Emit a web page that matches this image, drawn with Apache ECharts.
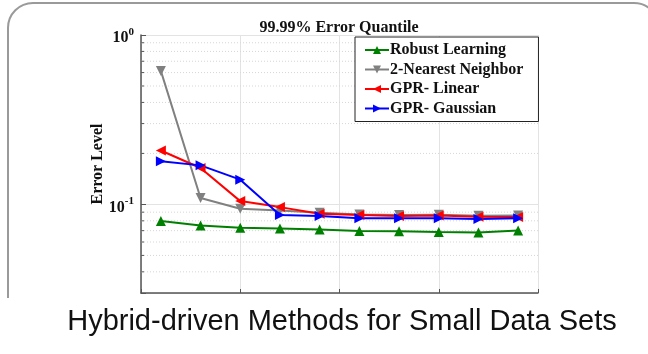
<!DOCTYPE html>
<html>
<head>
<meta charset="utf-8">
<script src="https://cdn.jsdelivr.net/npm/echarts@6/dist/echarts.min.js"></script>
<style>
html,body{margin:0;padding:0;background:#fff;}
#c{width:648px;height:354px;}
</style>
</head>
<body>
<div id="c"></div>
<script>
// ---- data ----
var xValues = [1, 3, 5, 7, 9, 11, 13, 15, 17, 19];
var robustLearning = [0.0797, 0.0752, 0.0729, 0.0722, 0.0710, 0.0696, 0.0694, 0.0687, 0.0683, 0.0701];
var nearestNeighbor = [0.614, 0.109, 0.0943, 0.0922, 0.0894, 0.0873, 0.0865, 0.0869, 0.0856, 0.0861];
var gprLinear = [0.208, 0.164, 0.1046, 0.0964, 0.0881, 0.0865, 0.0855, 0.0861, 0.0847, 0.0842];
var gprGaussian = [0.180, 0.170, 0.140, 0.0865, 0.0854, 0.0828, 0.0830, 0.0830, 0.0820, 0.0828];
var seriesNames = ['Robust Learning', '2-Nearest Neighbor', 'GPR- Linear', 'GPR- Gaussian'];
var minorTickValues = [0.04, 0.05, 0.06, 0.07, 0.08, 0.09, 0.2, 0.3, 0.4, 0.5, 0.6, 0.7, 0.8, 0.9];
var titleText = '99.99% Error Quantile';
var yAxisName = 'Error Level';
var captionText = 'Hybrid-driven Methods for Small Data Sets';

function pairs(ys) { return ys.map(function (y, i) { return [xValues[i], y]; }); }

var serif = '"Liberation Serif", "Times New Roman", serif';
var chart = echarts.init(document.getElementById('c'), null, {renderer: 'canvas'});

function lineSeries(name, data, color, rot) {
  return {
    name: name, type: 'line', data: pairs(data),
    symbol: 'triangle', symbolSize: 10, symbolRotate: rot,
    lineStyle: {color: color, width: 2},
    itemStyle: {color: color},
    z: 5, animation: false
  };
}

var option = {
  animation: false,
  backgroundColor: '#fff',
  title: {
    text: titleText, left: 334, top: 15, textAlign: 'center',
    textStyle: {fontFamily: serif, fontWeight: 'bold', fontSize: 16, color: '#111'}
  },
  grid: {left: 141, right: 110, top: 35, bottom: 61},
  legend: {
    orient: 'vertical', left: 355, top: 37,
    data: seriesNames,
    backgroundColor: '#fff', borderColor: '#222', borderWidth: 1,
    padding: [5, 15, 5, 9], itemGap: 3.5, itemWidth: 24, itemHeight: 10,
    textStyle: {fontFamily: serif, fontWeight: 'bold', fontSize: 16, color: '#111', padding: [0, 0, 0, -4]}
  },
  xAxis: {
    type: 'value', min: 0, max: 20, interval: 5,
    axisLine: {show: true, lineStyle: {color: '#555', width: 1.5}},
    axisTick: {show: true, inside: true, length: 4, lineStyle: {color: '#555'}},
    axisLabel: {show: false},
    splitLine: {show: true, lineStyle: {color: '#e3e3e3', width: 1}}
  },
  yAxis: {
    type: 'log', logBase: 10, min: 0.03, max: 1,
    axisLine: {show: true, lineStyle: {color: '#555', width: 1.5}},
    axisTick: {show: true, inside: true, length: 5, lineStyle: {color: '#555'}},
    axisLabel: {
      margin: 7,
      formatter: function (v) {
        if (Math.abs(v - 1) < 1e-9) return '{b|10}{s|0}';
        if (Math.abs(v - 0.1) < 1e-9) return '{b|10}{s|-1}';
        return '';
      },
      rich: {
        b: {fontFamily: serif, fontWeight: 'bold', fontSize: 16, color: '#111', padding: [6, 0, 0, 0]},
        s: {fontFamily: serif, fontWeight: 'bold', fontSize: 11, color: '#111', padding: [0, 0, 6, 0]}
      }
    },
    splitLine: {show: true, lineStyle: {color: '#e3e3e3', width: 1}},
    name: yAxisName, nameLocation: 'middle', nameGap: 35, nameRotate: 90,
    nameMoveOverlap: false,
    nameTextStyle: {fontFamily: serif, fontWeight: 'bold', fontSize: 16, color: '#111'}
  },
  series: [
    {
      type: 'custom', name: 'minor', silent: true, z: 1,
      data: minorTickValues.map(function (v) { return [0, v]; }),
      renderItem: function (params, api) {
        var p0 = api.coord([0, api.value(1)]);
        var p1 = api.coord([20, api.value(1)]);
        return {
          type: 'group',
          children: [
            {type: 'line', shape: {x1: p0[0], y1: p0[1], x2: p1[0], y2: p1[1]},
             style: {stroke: '#d6d6d6', lineWidth: 1, lineDash: [1, 2]}},
            {type: 'line', shape: {x1: p0[0], y1: p0[1], x2: p0[0] + 3, y2: p0[1]},
             style: {stroke: '#555', lineWidth: 1}}
          ]
        };
      },
      encode: {x: 0, y: 1}, animation: false
    },
    lineSeries(seriesNames[0], robustLearning, '#008000', 0),
    lineSeries(seriesNames[1], nearestNeighbor, '#808080', 180),
    lineSeries(seriesNames[2], gprLinear, '#ff0000', 90),
    lineSeries(seriesNames[3], gprGaussian, '#0000ff', -90)
  ],
  graphic: [
    {
      type: 'rect', silent: true, z: 0,
      shape: {x: 8, y: 3, width: 651, height: 340, r: [25, 25, 0, 0]},
      style: {fill: 'rgba(0,0,0,0)', stroke: '#9a9a9a', lineWidth: 2}
    },
    {
      type: 'rect', silent: true, z: 100,
      shape: {x: 0, y: 298, width: 648, height: 56},
      style: {fill: '#fff'}
    },
    {
      type: 'text', silent: true, z: 101,
      x: 342, y: 322,
      style: {text: captionText, fill: '#111', font: '29px "Liberation Sans", Arial, sans-serif',
              align: 'center', verticalAlign: 'middle'}
    }
  ]
};
chart.setOption(option);
</script>
</body>
</html>
